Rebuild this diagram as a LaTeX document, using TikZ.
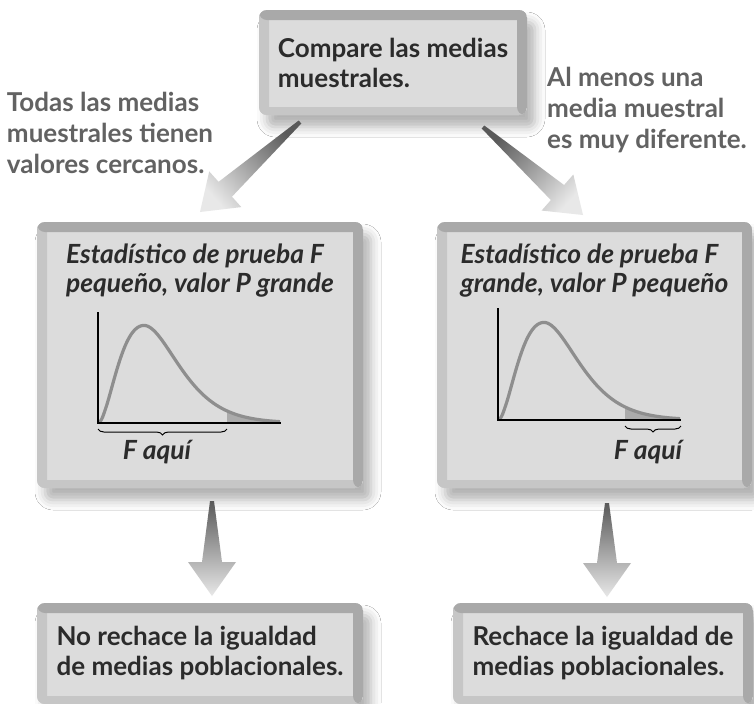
\documentclass[tikz,border=0pt]{standalone}
\usepackage{fontspec}
\setmainfont{Lato}
\usepackage{tikz}
\usetikzlibrary{positioning,calc,shadows.blur,decorations.pathreplacing}
\definecolor{FlowFill}{HTML}{DCDCDC}
\definecolor{FlowBand}{HTML}{A9A9A9}
\definecolor{FlowEdge}{HTML}{C6C6C6}
\definecolor{FlowText}{HTML}{2B2B2B}
\definecolor{FlowNote}{HTML}{626262}
\definecolor{FlowCurve}{HTML}{8E8E8E}
\definecolor{FlowTail}{HTML}{ABABAB}

\tikzset{
  panel/.style={rectangle,rounded corners=4pt,fill=FlowFill,inner sep=0pt,
    blur shadow={shadow xshift=4pt,shadow yshift=-6pt,shadow blur radius=5pt,
                 shadow opacity=30},
    path picture={
      \fill[FlowEdge] (path picture bounding box.north west) rectangle
        ([xshift=5pt]path picture bounding box.south west);
      \fill[FlowEdge] (path picture bounding box.south west) rectangle
        ([yshift=4pt]path picture bounding box.south east);
      \fill[FlowBand] (path picture bounding box.north west) rectangle
        ([yshift=-5pt]path picture bounding box.north east);
      \fill[FlowBand] (path picture bounding box.north east) rectangle
        ([xshift=-5pt]path picture bounding box.south east);},
    font=\fontsize{13}{15}\selectfont\bfseries,text=FlowText,align=left},
  head/.style={inner sep=0pt,align=left,text=FlowText,
    font=\fontsize{13.2}{14.5}\selectfont\bfseries\itshape},
  note/.style={inner sep=0pt,align=left,text=FlowNote,
    font=\fontsize{13}{15.5}\selectfont\bfseries},
  axisline/.style={line width=0.7pt,black},
  curve/.style={line width=1.6pt,FlowCurve},
  brace/.style={decorate,decoration={brace,mirror,amplitude=3pt},line width=0.5pt},
  declare function={fden(\t)=97.6*exp(((\t<46) ? 2 : 2.7)*(ln(\t/46)+1-\t/46));}
}

% tapered block arrow: start, tip, shading angle
\newcommand{\fatarrow}[3]{%
  \shade[top color=gray!70!black,bottom color=gray!18,shading angle=#3]
    ($(#1)!1pt!90:(#2)$) -- ($(#2)!17pt!(#1)!5pt!90:(#2)$)
    -- ($(#2)!17pt!(#1)!12pt!90:(#2)$) -- (#2)
    -- ($(#2)!17pt!(#1)!12pt!-90:(#2)$) -- ($(#2)!17pt!(#1)!5pt!-90:(#2)$)
    -- ($(#1)!1pt!-90:(#2)$) -- cycle;}

\begin{document}
\begin{tikzpicture}[x=0.5pt,y=-0.5pt]
  \fill[white] (0,0) rectangle (754,703);
  \useasboundingbox (0,0) rectangle (754,703);

  \node[panel,minimum width=134pt,minimum height=52.5pt] (compare) at (393,62.5)
    {Compare las medias\\muestrales.};
  \node[panel,minimum width=163pt,minimum height=133pt] (smallF) at (200,355) {};
  \node[panel,minimum width=157.5pt,minimum height=133pt] (largeF) at (594.5,355) {};
  \node[panel,minimum width=163pt,minimum height=50.5pt] (keep) at (200,653.5)
    {No rechace la igualdad\\de medias poblacionales.};
  \node[panel,minimum width=150pt,minimum height=50.5pt] (reject) at (603,653.5)
    {Rechace la igualdad de\\medias poblacionales.};

  \node[head,below=11pt of smallF.north] (headL)
    {Estadístico de prueba F\\pequeño, valor P grande};
  \node[head,below=11pt of largeF.north] (headR)
    {Estadístico de prueba F\\grande, valor P pequeño};

  \node[note] (noteL) at (110,133)
    {Todas las medias\\muestrales tienen\\valores cercanos.};
  \node[note] (noteR) at (647,110)
    {Al menos una\\media muestral\\es muy diferente.};

  \coordinate (arrLs) at (300,122);
  \coordinate (arrLt) at (200,212);
  \coordinate (arrRs) at (483,127);
  \coordinate (arrRt) at (583,215);
  \coordinate (arrDLs) at (212,501);
  \coordinate (arrDLt) at (212,596);
  \coordinate (arrDRs) at (607,503);
  \coordinate (arrDRt) at (607,597);
  \fatarrow{arrLs}{arrLt}{-48}
  \fatarrow{arrRs}{arrRt}{48}
  \fatarrow{arrDLs}{arrDLt}{0}
  \fatarrow{arrDRs}{arrDRt}{0}

  % small F: curve and tail
  \fill[FlowTail] (227,423) -- plot[domain=129:182,samples=20] ({98+\x},{423-fden(\x)})
    -- (280,423) -- cycle;
  \draw[curve] plot[domain=0.5:182,samples=90,smooth] ({98+\x},{423-fden(\x)});
  \draw[axisline] (98,312) -- (98,423) -- (281,423);
  \draw[brace] (98,429) -- (227,429);
  \node[head] (hereL) at (157,452) {F aquí};

  % large F: curve and tail
  \fill[FlowTail] (625,420) -- plot[domain=127:182,samples=20] ({498+\x},{420-fden(\x)})
    -- (680,420) -- cycle;
  \draw[curve] plot[domain=0.5:182,samples=90,smooth] ({498+\x},{420-fden(\x)});
  \draw[axisline] (498,308) -- (498,420) -- (681,420);
  \draw[brace] (625,426) -- (681,426);
  \node[head] (hereR) at (648,452) {F aquí};
\end{tikzpicture}
\end{document}
